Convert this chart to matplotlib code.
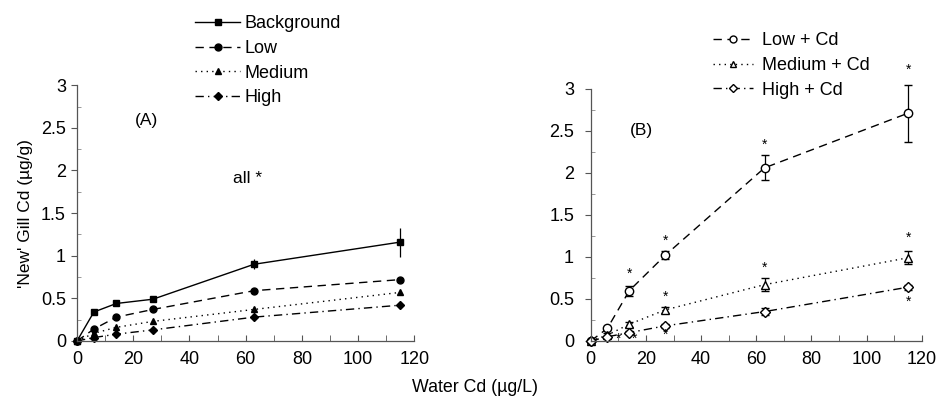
import matplotlib
matplotlib.use("Agg")
import matplotlib.pyplot as plt
from matplotlib.ticker import MultipleLocator
from matplotlib.lines import Line2D

plt.rcParams['font.family'] = ['Liberation Sans', 'DejaVu Sans']

# ---- data ----
water_cd = [0, 6, 14, 27, 63, 115]

# Panel A
bg_vals = [0.0, 0.34, 0.44, 0.49, 0.90, 1.16]
bg_err = [0.0, 0.02, 0.02, 0.02, 0.06, 0.17]
low_vals = [0.0, 0.14, 0.28, 0.37, 0.59, 0.72]
low_err = [0.0, 0.02, 0.02, 0.02, 0.03, 0.03]
med_vals = [0.0, 0.09, 0.16, 0.23, 0.37, 0.57]
med_err = [0.0, 0.02, 0.02, 0.02, 0.03, 0.03]
high_vals = [0.0, 0.04, 0.08, 0.13, 0.28, 0.42]
high_err = [0.0, 0.01, 0.01, 0.01, 0.03, 0.02]

# Panel B
lowcd_vals = [0.0, 0.15, 0.60, 1.02, 2.06, 2.71]
lowcd_err = [0.0, 0.02, 0.06, 0.05, 0.15, 0.34]
medcd_vals = [0.0, 0.07, 0.20, 0.37, 0.67, 0.99]
medcd_err = [0.0, 0.02, 0.03, 0.04, 0.08, 0.08]
highcd_vals = [0.0, 0.05, 0.10, 0.18, 0.35, 0.64]
highcd_err = [0.0, 0.01, 0.02, 0.02, 0.04, 0.03]

# significance asterisks (x, y) in panel B
stars_x = [14, 27, 63, 115, 27, 63, 115, 115, 27, 10, 16]
stars_y = [0.80, 1.19, 2.33, 3.23, 0.53, 0.87, 1.23, 0.47, 0.07, 0.03, 0.03]

legend_a = ['Background', 'Low', 'Medium', 'High']
legend_b = ['Low + Cd', 'Medium + Cd', 'High + Cd']
xticks = [0, 20, 40, 60, 80, 100, 120]
yticks = [0, 0.5, 1, 1.5, 2, 2.5, 3]
yticklabels = ['0', '0.5', '1', '1.5', '2', '2.5', '3']

# ---- figure ----
fig = plt.figure(figsize=(9.37, 3.99), dpi=100)
axA = fig.add_axes([0.0822, 0.1454, 0.360, 0.641])
axB = fig.add_axes([0.6305, 0.1454, 0.3533, 0.632])

lw = 1.0
ms = 5
col = 'black'
tick_fs = 13
dash = (0, (6, 4))
dot = (0, (1, 3))
dashdot = (0, (6, 3, 1, 3))


def style_axes(ax, ypad):
    ax.set_xlim(0, 120)
    ax.set_ylim(0, 3)
    for s in ['top', 'right']:
        ax.spines[s].set_visible(False)
    for s in ['left', 'bottom']:
        ax.spines[s].set_color('#555555')
        ax.spines[s].set_linewidth(0.9)
    ax.xaxis.set_minor_locator(MultipleLocator(10))
    ax.yaxis.set_minor_locator(MultipleLocator(0.25))
    ax.set_yticks(yticks)
    ax.set_yticklabels(yticklabels)
    ax.set_xticks(xticks)
    ax.set_xticklabels([str(v) for v in xticks])
    ax.tick_params(axis='x', which='both', direction='in', length=4, color='#555555',
                   labelsize=tick_fs, pad=7)
    ax.tick_params(axis='y', which='major', direction='out', length=4, color='#555555',
                   labelsize=tick_fs, pad=ypad)
    ax.tick_params(axis='y', which='minor', direction='in', length=3, color='#888888')


style_axes(axA, 4)
style_axes(axB, 8)

# Panel A series
axA.errorbar(water_cd, bg_vals, yerr=bg_err, color=col, lw=lw, ls='-',
             marker='s', ms=ms, mfc=col, capsize=0, elinewidth=0.9, clip_on=False)
axA.errorbar(water_cd, low_vals, yerr=low_err, color=col, lw=lw, ls=dash,
             marker='o', ms=ms, mfc=col, capsize=0, elinewidth=0.9, clip_on=False)
axA.errorbar(water_cd, med_vals, yerr=med_err, color=col, lw=lw, ls=dot,
             marker='^', ms=ms, mfc=col, capsize=0, elinewidth=0.9, clip_on=False)
axA.errorbar(water_cd, high_vals, yerr=high_err, color=col, lw=lw, ls=dashdot,
             marker='D', ms=ms - 1, mfc=col, capsize=0, elinewidth=0.9, clip_on=False)

axA.text(24.7, 2.59, '(A)', fontsize=12.5, ha='center', va='center')
axA.text(60.8, 1.91, 'all *', fontsize=12.5, ha='center', va='center')

# Panel B series
axB.errorbar(water_cd, lowcd_vals, yerr=lowcd_err, color=col, lw=lw, ls=dash,
             marker='o', ms=ms + 1, mfc='white', capsize=3, elinewidth=0.9, clip_on=False)
axB.errorbar(water_cd, medcd_vals, yerr=medcd_err, color=col, lw=lw, ls=dot,
             marker='^', ms=ms + 1, mfc='white', capsize=3, elinewidth=0.9, clip_on=False)
axB.errorbar(water_cd, highcd_vals, yerr=highcd_err, color=col, lw=lw, ls=dashdot,
             marker='D', ms=ms, mfc='white', capsize=3, elinewidth=0.9, clip_on=False)

for sx, sy in zip(stars_x, stars_y):
    axB.text(sx, sy, '*', fontsize=10, ha='center', va='center')

axB.text(18.5, 2.51, '(B)', fontsize=12.5, ha='center', va='center')

# Legends (line + marker handles, no error bars)
hA = [Line2D([], [], color=col, lw=lw, ls='-', marker='s', ms=ms, mfc=col),
      Line2D([], [], color=col, lw=lw, ls=dash, marker='o', ms=ms, mfc=col),
      Line2D([], [], color=col, lw=lw, ls=dot, marker='^', ms=ms, mfc=col),
      Line2D([], [], color=col, lw=lw, ls=dashdot, marker='D', ms=ms - 1, mfc=col)]
hB = [Line2D([], [], color=col, lw=lw, ls=dash, marker='o', ms=ms, mfc='white'),
      Line2D([], [], color=col, lw=lw, ls=dot, marker='^', ms=ms, mfc='white'),
      Line2D([], [], color=col, lw=lw, ls=dashdot, marker='D', ms=ms - 1, mfc='white')]

fig.legend(hA, legend_a, loc='upper left', bbox_to_anchor=(0.2006, 0.980),
           frameon=False, fontsize=13, handlelength=2.5, handletextpad=0.25,
           labelspacing=0.43, borderaxespad=0)
fig.legend(hB, legend_b, loc='upper left', bbox_to_anchor=(0.7535, 0.9375),
           frameon=False, fontsize=13, handlelength=2.2, handletextpad=0.5,
           labelspacing=0.43, borderaxespad=0)

# Labels
axA.set_ylabel("'New' Gill Cd (µg/g)", fontsize=12.5, labelpad=6)
fig.text(475 / 937, 1 - 388 / 399, 'Water Cd (µg/L)', fontsize=12.8, ha='center', va='center')

fig.savefig('out.png', dpi=100)
